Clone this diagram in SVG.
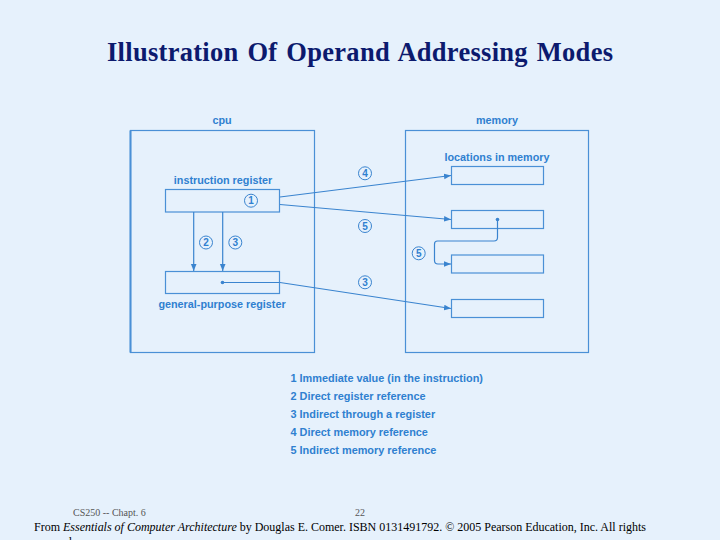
<svg xmlns="http://www.w3.org/2000/svg" width="720" height="540" viewBox="0 0 720 540">
<defs>
<style>
.box{fill:none;stroke:#4a90d6;stroke-width:1.2}
.ln{fill:none;stroke:#3a84cf;stroke-width:1.2}
.lbl{font-family:"Liberation Sans",Arial,sans-serif;font-weight:bold;font-size:10.8px;fill:#2f80d0}
.cir{fill:none;stroke:#3a84cf;stroke-width:1}
.num{font-family:"Liberation Sans",Arial,sans-serif;font-size:10px;font-weight:bold;fill:#2f80d0;text-anchor:middle}
.leg{font-family:"Liberation Sans",Arial,sans-serif;font-weight:bold;font-size:10.9px;fill:#2f80d0}
</style>
<marker id="ah" viewBox="0 0 10 10" refX="10" refY="5" markerWidth="7" markerHeight="7" markerUnits="userSpaceOnUse" orient="auto">
<path d="M0,1 L10,5 L0,9 z" fill="#3a84cf"/>
</marker>
</defs>
<rect width="720" height="540" fill="#e6f1fc"/>
<text x="107" y="61" textLength="506" lengthAdjust="spacing" word-spacing="2" font-family="'Liberation Serif','Times New Roman',serif" font-weight="bold" font-size="26.5" fill="#0c1a6e">Illustration Of Operand Addressing Modes</text>

<g id="cpu">
<rect class="box" x="130.5" y="130.5" width="184" height="222"/>
<line x1="130.5" y1="130.5" x2="130.5" y2="352.5" stroke="#4a90d6" stroke-width="2"/>
<text class="lbl" x="222" y="124" text-anchor="middle">cpu</text>
</g>
<g id="instruction-register">
<text class="lbl" x="223" y="184" text-anchor="middle">instruction register</text>
<rect class="box" x="165.5" y="189.5" width="114" height="22.5"/>
</g>
<g id="general-purpose-register">
<rect class="box" x="165.5" y="271.5" width="114" height="22"/>
<circle cx="222.5" cy="282.5" r="1.8" fill="#3a84cf"/>
<text class="lbl" x="222" y="308" text-anchor="middle">general-purpose register</text>
</g>

<g id="memory">
<rect class="box" x="405.5" y="130.5" width="183" height="222"/>
<text class="lbl" x="497" y="124" text-anchor="middle">memory</text>
<text class="lbl" x="497" y="161" text-anchor="middle">locations in memory</text>
</g>
<g id="mem1"><rect class="box" x="451.5" y="166.5" width="92" height="18"/></g>
<g id="mem2"><rect class="box" x="451.5" y="210.5" width="92" height="18"/><circle cx="497.5" cy="219.5" r="1.8" fill="#3a84cf"/></g>
<g id="mem3"><rect class="box" x="451.5" y="255" width="92" height="18"/></g>
<g id="mem4"><rect class="box" x="451.5" y="299.5" width="92" height="18"/></g>

<g id="connectors">
<line class="ln" x1="193.7" y1="212" x2="193.7" y2="271" marker-end="url(#ah)"/>
<line class="ln" x1="222.7" y1="212" x2="222.7" y2="271" marker-end="url(#ah)"/>
<line class="ln" x1="222.5" y1="282.5" x2="279.5" y2="282.5"/>
<line class="ln" x1="280" y1="197" x2="451" y2="175.5" marker-end="url(#ah)"/>
<line class="ln" x1="280" y1="204.5" x2="451" y2="219.5" marker-end="url(#ah)"/>
<line class="ln" x1="280" y1="282.5" x2="451" y2="308.5" marker-end="url(#ah)"/>
<path class="ln" d="M497.5,219.5 V237.5 Q497.5,241 494,241 H437.5 Q434.5,241 434.5,244 V260.5 Q434.5,264 438,264 H451" marker-end="url(#ah)"/>
</g>

<g id="circles">
<circle class="cir" cx="251" cy="200.7" r="6.5"/><text class="num" x="251" y="204.3">1</text>
<circle class="cir" cx="206" cy="242.5" r="6.5"/><text class="num" x="206" y="246.1">2</text>
<circle class="cir" cx="235.3" cy="242.5" r="6.5"/><text class="num" x="235.3" y="246.1">3</text>
<circle class="cir" cx="365" cy="173.3" r="6.5"/><text class="num" x="365" y="176.9">4</text>
<circle class="cir" cx="365" cy="226" r="6.5"/><text class="num" x="365" y="229.6">5</text>
<circle class="cir" cx="418.7" cy="253.3" r="6.5"/><text class="num" x="418.7" y="256.9">5</text>
<circle class="cir" cx="365" cy="282.3" r="6.5"/><text class="num" x="365" y="285.9">3</text>
</g>

<g id="legend">
<text class="leg" x="290.5" y="382">1 Immediate value (in the instruction)</text>
<text class="leg" x="290.5" y="400">2 Direct register reference</text>
<text class="leg" x="290.5" y="418">3 Indirect through a register</text>
<text class="leg" x="290.5" y="436">4 Direct memory reference</text>
<text class="leg" x="290.5" y="454">5 Indirect memory reference</text>
</g>

<g id="footer" font-family="'Liberation Serif','Times New Roman',serif">
<text x="73" y="516" font-size="10" fill="#555">CS250 -- Chapt. 6</text>
<text x="360" y="516" font-size="10" fill="#555" text-anchor="middle">22</text>
<text x="34" y="531" font-size="12" fill="#000" textLength="612" lengthAdjust="spacing">From <tspan font-style="italic">Essentials of Computer Architecture</tspan> by Douglas E. Comer. ISBN 0131491792. © 2005 Pearson Education, Inc. All rights</text>
<text x="31" y="546" font-size="12" fill="#000">reserved.</text>
</g>
</svg>
